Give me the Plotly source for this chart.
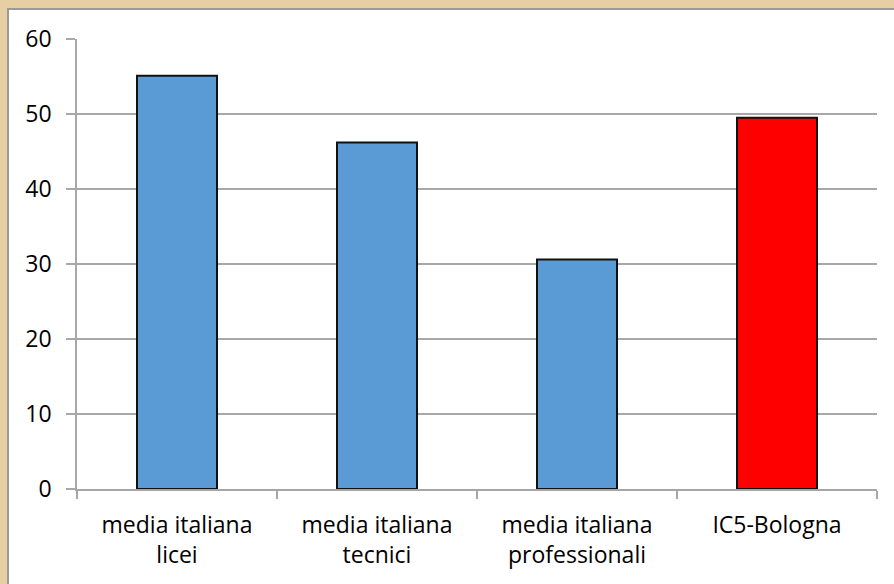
import plotly.graph_objects as go

categories = ["media italiana<br>licei", "media italiana<br>tecnici",
              "media italiana<br>professionali", "IC5-Bologna"]
values = [55.1, 46.2, 30.6, 49.5]
bar_colors = ["#5B9BD5", "#5B9BD5", "#5B9BD5", "#FF0000"]
y_ticks = [0, 10, 20, 30, 40, 50, 60]

W, H = 894, 584
L, R, T, B = 77, 17, 38.5, 94.5
pw, ph = W - L - R, H - T - B

fig = go.Figure(go.Bar(
    x=categories, y=values,
    marker=dict(color=bar_colors, line=dict(color="#111111", width=2)),
    width=0.4,
))

# white chart area with gray border over the parchment background
x0 = (8 - L) / pw
y1 = (H - B - 8.5) / ph
fig.add_shape(type="rect", xref="paper", yref="paper",
              x0=x0, x1=(W + 10 - L) / pw, y0=-(B + 10) / ph, y1=y1,
              fillcolor="white", line=dict(color="#9a9a9a", width=2), layer="below")

fig.update_layout(
    width=W, height=H, autosize=False,
    margin=dict(l=L, r=R, t=T, b=B, pad=0),
    paper_bgcolor="#e6d0a3", plot_bgcolor="rgba(0,0,0,0)",
    font=dict(family="Open Sans", size=23, color="#000000"),
    showlegend=False,
    xaxis=dict(showgrid=False, showline=True, linecolor="#a6a6a6", linewidth=1.5,
               ticks="outside", tickson="boundaries", ticklen=8, tickcolor="#a6a6a6",
               tickwidth=1.5, range=[-0.5, 3.5], tickfont=dict(size=23),
               ticklabelstandoff=15),
    yaxis=dict(range=[0, 60], tickvals=y_ticks, showgrid=True, gridcolor="#a8a8a8",
               gridwidth=1.5, showline=True, linecolor="#a8a8a8", linewidth=1.5,
               zeroline=False, ticks="outside", ticklen=9, tickcolor="#a8a8a8",
               tickwidth=1.5, ticklabelstandoff=10, tickfont=dict(size=23)),
)

fig.write_html("out.html", config={"displayModeBar": False},
               post_script="document.body.style.margin='0px';document.body.style.overflow='hidden';")
